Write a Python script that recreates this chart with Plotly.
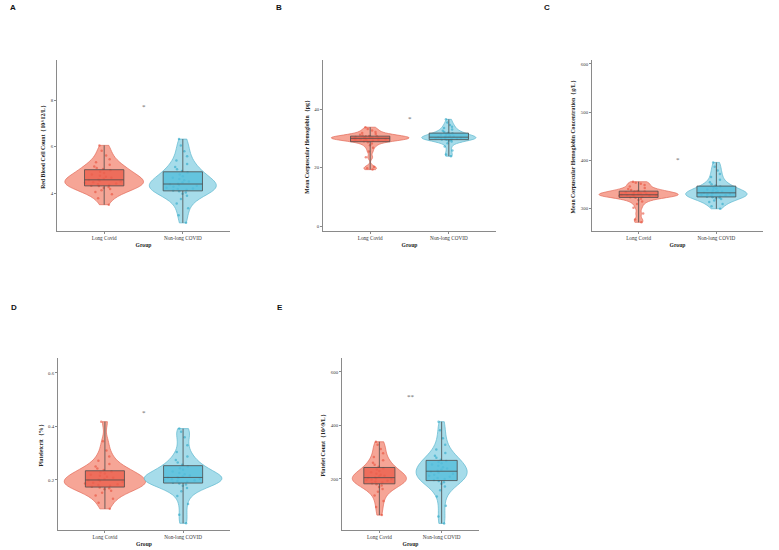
import plotly.graph_objects as go

groups = ["Long Covid", "Non-long COVID"]
group_pos = [0, 1]

rbc_long = [3.50, 3.78, 3.95, 4.05, 4.12, 4.18, 4.22, 4.26, 4.30, 4.32, 4.35, 4.38, 4.41, 4.44, 4.47, 4.50, 4.53, 4.56,
            4.58, 4.62, 4.66, 4.70, 4.75, 4.80, 4.86, 4.92, 4.98, 5.03, 5.08, 5.14, 5.22, 5.32, 5.45, 5.62, 5.82, 6.05]
rbc_non = [2.72, 3.05, 3.35, 3.55, 3.75, 3.88, 3.97, 4.03, 4.08, 4.11, 4.14, 4.17, 4.20, 4.23, 4.27, 4.31, 4.35, 4.38,
           4.40, 4.45, 4.50, 4.55, 4.60, 4.66, 4.72, 4.80, 4.88, 4.95, 5.02, 5.12, 5.25, 5.40, 5.58, 5.80, 6.05, 6.32]
mch_long = [19.3, 19.8, 20.2, 23.5, 25.5, 26.8, 27.6, 28.2, 28.7, 29.0, 29.2, 29.4, 29.5, 29.6, 29.7, 29.8, 29.9, 30.0,
            30.0, 30.1, 30.2, 30.3, 30.4, 30.5, 30.6, 30.7, 30.7, 30.8, 31.0, 31.2, 31.5, 31.8, 32.2, 32.7, 33.2, 33.8]
mch_non = [23.9, 24.5, 25.8, 27.2, 28.3, 28.9, 29.2, 29.4, 29.5, 29.6, 29.7, 29.8, 29.9, 30.0, 30.1, 30.2, 30.3, 30.4,
           30.4, 30.5, 30.6, 30.8, 31.0, 31.2, 31.4, 31.6, 31.7, 31.9, 32.2, 32.6, 33.0, 33.5, 34.0, 34.6, 35.4, 36.5]
mchc_long = [272, 278, 290, 302, 310, 315, 318, 321, 323, 324, 325, 326, 327, 327, 328, 328, 329, 329,
             329, 330, 331, 332, 333, 334, 335, 336, 336, 337, 339, 341, 343, 346, 349, 352, 354, 356]
mchc_non = [300, 305, 310, 314, 317, 320, 322, 323, 324, 325, 326, 327, 328, 329, 330, 331, 332, 333,
            333, 334, 335, 336, 338, 340, 342, 344, 346, 348, 351, 355, 360, 366, 372, 379, 387, 396]
pct_long = [0.092, 0.115, 0.130, 0.142, 0.152, 0.160, 0.165, 0.169, 0.172, 0.175, 0.178, 0.181, 0.184, 0.187, 0.190,
            0.193, 0.196, 0.199, 0.201, 0.204, 0.208, 0.212, 0.216, 0.220, 0.224, 0.228, 0.232, 0.237, 0.243, 0.250,
            0.260, 0.272, 0.288, 0.310, 0.345, 0.418]
pct_non = [0.038, 0.070, 0.110, 0.140, 0.158, 0.170, 0.178, 0.183, 0.187, 0.190, 0.193, 0.196, 0.199, 0.201, 0.203,
           0.205, 0.207, 0.209, 0.210, 0.213, 0.217, 0.221, 0.226, 0.232, 0.238, 0.244, 0.250, 0.257, 0.265, 0.275,
           0.288, 0.305, 0.330, 0.360, 0.380, 0.392]
plt_long = [65, 95, 118, 138, 152, 163, 170, 176, 180, 184, 187, 190, 193, 196, 198, 200, 202, 204,
            206, 209, 212, 216, 220, 225, 230, 235, 240, 246, 253, 261, 270, 282, 296, 312, 328, 339]
plt_non = [34, 60, 100, 135, 158, 172, 182, 188, 192, 196, 200, 204, 208, 212, 216, 220, 224, 227,
           231, 235, 239, 244, 249, 254, 259, 263, 267, 272, 279, 287, 297, 310, 328, 352, 382, 414]

panel_letters = ["A", "B", "C", "D", "E"]
y_titles = ["Red Blood Cell Count（10^12/L）",
            "Mean Corpuscular Hemoglobin（pg）",
            "Mean Corpuscular Hemoglobin Concentration（g/L）",
            "Plateletcrit（%）",
            "Platelet Count（10^9/L）"]
series = [(rbc_long, rbc_non), (mch_long, mch_non), (mchc_long, mchc_non), (pct_long, pct_non), (plt_long, plt_non)]
y_ranges = [[2.37, 9.72], [-1.7, 56.8], [254, 608], [0.013, 0.656], [9.4, 652]]
y_ticks = [[4, 6, 8], [0, 20, 40], [300, 400, 500, 600], [0.2, 0.4, 0.6], [200, 400, 600]]
y_ticklabels = [["4", "6", "8"], ["0", "20", "40"], ["300", "400", "500", "600"], ["0.2", "0.4", "0.6"],
                ["200", "400", "600"]]
sig_labels = ["*", "*", "*", "*", "**"]
sig_values = [7.7, 36.6, 400, 0.449, 508]

# layout geometry (pixels)
W, H = 779, 550
boxes_px = [(57, 230, 60, 231), (323, 496, 60, 231), (592, 763, 60, 231), (58, 230, 358, 530), (342, 479, 358, 530)]
letter_px = [(8, 8), (274, 8), (542, 8), (9, 307), (275, 307)]
violin_widths = [(1.0, 0.85), (0.99, 0.69), (1.02, 0.79), (1.04, 0.99), (0.87, 0.82)]
title_standoff = [4, 4, 4, 4, 4]

violin_fill = ["#F6A596", "#A6DCEA"]
violin_line = ["#E26A59", "#5DB7CF"]
box_fill = ["rgba(236,96,78,0.82)", "rgba(86,190,220,0.82)"]
point_col = ["rgba(232,78,58,0.6)", "rgba(45,168,200,0.6)"]
serif = "Liberation Serif"

fig = go.Figure()
layout = {}
for i in range(5):
    n = "" if i == 0 else str(i + 1)
    xa, ya = "x" + n, "y" + n
    x0, x1, y0, y1 = boxes_px[i]
    for g in range(2):
        vals = series[i][g]
        fig.add_trace(go.Violin(
            y=vals, x0=group_pos[g], xaxis=xa, yaxis=ya, width=violin_widths[i][g],
            fillcolor=violin_fill[g], line=dict(color=violin_line[g], width=0.7), opacity=1,
            spanmode="hard", points=False, box_visible=False, meanline_visible=False,
            showlegend=False, hoverinfo="skip", scalemode="width"))
    for g in range(2):
        vals = series[i][g]
        fig.add_trace(go.Box(
            y=vals, x0=group_pos[g], xaxis=xa, yaxis=ya, width=0.5, whiskerwidth=0,
            fillcolor=box_fill[g], line=dict(color="#4a4a4a", width=0.8), boxpoints=False,
            showlegend=False, hoverinfo="skip"))
    for g in range(2):
        vals = series[i][g]
        fig.add_trace(go.Violin(
            y=vals, x0=group_pos[g], xaxis=xa, yaxis=ya, width=violin_widths[i][g],
            fillcolor="rgba(0,0,0,0)", line=dict(color="rgba(0,0,0,0)", width=0),
            spanmode="hard", points="all", jitter=0.5, pointpos=0,
            marker=dict(color=point_col[g], size=2.5, line=dict(width=0)),
            showlegend=False, hoverinfo="skip", scalemode="width"))
    layout["xaxis" + n] = dict(
        domain=[x0 / W, x1 / W], anchor=ya, range=[-0.6, 1.6], tickvals=group_pos, ticktext=groups,
        showline=True, linecolor="#8a8a8a", linewidth=1, ticks="outside", ticklen=2, tickcolor="#8a8a8a",
        tickfont=dict(family=serif, size=5.2, color="#333"), showgrid=False, zeroline=False,
        title=dict(text="<b>Group</b>", font=dict(family=serif, size=5.6, color="#222"), standoff=2))
    layout["yaxis" + n] = dict(
        domain=[1 - y1 / H, 1 - y0 / H], anchor=xa, range=y_ranges[i], tickvals=y_ticks[i],
        ticktext=y_ticklabels[i], showline=True, linecolor="#8a8a8a", linewidth=1, ticks="outside",
        ticklen=2, tickcolor="#8a8a8a", tickfont=dict(family=serif, size=4.8, color="#333"),
        showgrid=False, zeroline=False,
        title=dict(text="<b>" + y_titles[i] + "</b>", font=dict(family=serif, size=5.8, color="#222"),
                   standoff=title_standoff[i]))

annotations = []
for i in range(5):
    n = "" if i == 0 else str(i + 1)
    annotations.append(dict(xref="x" + n, yref="y" + n, x=0.5, y=sig_values[i], text=sig_labels[i],
                            showarrow=False, font=dict(family=serif, size=7, color="#666")))
    lx, ly = letter_px[i]
    annotations.append(dict(xref="paper", yref="paper", x=lx / W, y=1 - ly / H, text="<b>" + panel_letters[i] + "</b>",
                            showarrow=False, xanchor="left", yanchor="middle",
                            font=dict(family="Liberation Sans", size=8, color="#111")))

fig.update_layout(width=W, height=H, margin=dict(l=0, r=0, t=0, b=0), paper_bgcolor="white",
                  plot_bgcolor="white", violinmode="overlay", boxmode="overlay", annotations=annotations,
                  **layout)
fig.write_html("out.html")
